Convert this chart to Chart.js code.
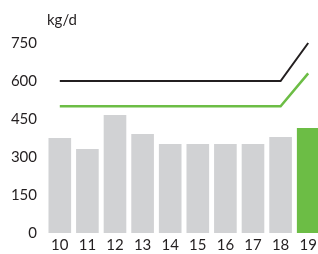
<!DOCTYPE html>
<html>
<head>
<meta charset="utf-8">
<script src="https://cdn.jsdelivr.net/npm/chart.js@4/dist/chart.umd.min.js"></script>
<style>
  html,body{margin:0;padding:0;background:#fff;overflow:hidden}
  #wrap{width:318px;height:254px;overflow:hidden;position:relative}
  #box{position:absolute;left:0;top:0;width:322px;height:254px}
</style>
</head>
<body>
<div id="wrap"><div id="box"><canvas id="c"></canvas></div></div>
<script>
// ====== Data ======
const dias   = ['10','11','12','13','14','15','16','17','18','19'];
const consumo = [375, 332, 466, 391, 351, 351, 351, 351, 379, 414]; // kg/d bars
const limiteAlto = [600, 600, 600, 600, 600, 600, 600, 600, 600, 750];
const limiteBaixo = [500, 500, 500, 500, 500, 500, 500, 500, 500, 630];
const yTicks = [0, 150, 300, 450, 600, 750];
const unidade = 'kg/d';

// ====== Cores ======
const cinza = '#d1d2d4', verde = '#6cbd45', preto = '#231f20';
const barCores = dias.map((d,i)=> i===dias.length-1 ? verde : cinza);

const FONT = 'Lato, "DejaVu Sans", sans-serif';

// label da unidade acima do eixo
const unidadePlugin = {
  id:'unidade',
  afterDraw(ch){
    const c=ch.ctx, a=ch.chartArea;
    c.save(); c.font='15px '+FONT; c.fillStyle='#231f20';
    c.textAlign='left'; c.textBaseline='middle';
    c.fillText(unidade, a.left+1, 20);
    c.restore();
  }
};

new Chart(document.getElementById('c'), {
  data:{
    labels:dias,
    datasets:[
      {type:'line', data:limiteAlto, borderColor:preto, borderWidth:2, pointRadius:0, tension:0, order:0},
      {type:'line', data:limiteBaixo, borderColor:verde, borderWidth:2.5, pointRadius:0, tension:0, order:1},
      {type:'bar', data:consumo, backgroundColor:barCores, barPercentage:0.82, categoryPercentage:1, order:2}
    ]
  },
  options:{
    responsive:true, maintainAspectRatio:false, animation:false,
    clip:false,
    layout:{padding:{top:43, right:0, left:0, bottom:0}},
    plugins:{legend:{display:false}, tooltip:{enabled:false}},
    scales:{
      x:{
        grid:{display:false, drawTicks:false}, border:{display:false},
        ticks:{color:'#231f20', font:{family:FONT, size:15}, padding:3},
        afterFit(s){ s.height=21; }
      },
      y:{
        min:0, max:750,
        grid:{display:false, drawTicks:false}, border:{display:false},
        afterBuildTicks(s){ s.ticks = yTicks.map(v=>({value:v})); },
        ticks:{color:'#231f20', font:{family:FONT, size:15}, padding:9},
        afterFit(s){ s.width=46; }
      }
    }
  },
  plugins:[unidadePlugin]
});
</script>
</body>
</html>
